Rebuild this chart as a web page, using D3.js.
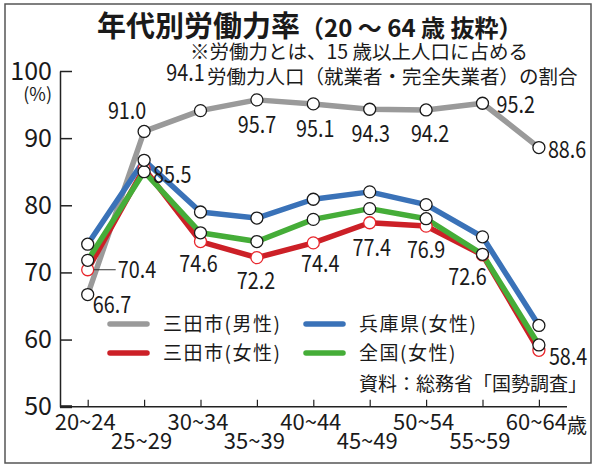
<!DOCTYPE html>
<html>
<head>
<meta charset="utf-8">
<script src="https://cdn.jsdelivr.net/npm/d3@7"></script>
<style>
  body { margin: 0; background: #fff; }
  svg text { font-family: "Noto Sans CJK JP", "Noto Sans", sans-serif; fill: #1a1a1a; }
</style>
</head>
<body>
<svg id="chart" width="597" height="466"></svg>
<script>
// age groups and rates (%)
const ages = ["20~24", "25~29", "30~34", "35~39", "40~44", "45~49", "50~54", "55~59", "60~64"];
const sandaMale = [66.7, 91.0, 94.1, 95.7, 95.1, 94.3, 94.2, 95.2, 88.6];
const sandaFemale = [70.4, 85.5, 74.6, 72.2, 74.4, 77.4, 76.9, 72.6, 58.4];
const hyogoFemale = [74.2, 86.7, 79.0, 78.1, 80.9, 82.0, 80.1, 75.3, 62.1];
const nationFemale = [71.8, 85.0, 75.9, 74.6, 77.9, 79.5, 78.0, 72.7, 59.2];
const yTicks = [50, 60, 70, 80, 90, 100];

// label offsets from the point: [dx, dy, anchor]
const maleLabelPos = [[5, 18, "start"], [-17, -12, "middle"], [-15, -30, "middle"], [0, 33, "middle"],
  [2, 33, "middle"], [1, 33, "middle"], [4, 32, "middle"], [14, 10, "start"], [9, 10, "start"]];
const femaleLabelPos = [[30, 8, "start"], [9, 15, "start"], [-2, 30, "middle"], [-1, 31, "middle"],
  [7, 29, "middle"], [2, 33, "middle"], [0, 32, "middle"], [-15, 30, "middle"], [10, 15, "start"]];

const svg = d3.select("#chart");
const squeeze = 0.86; // the numbers in the original are set in a narrow face

// frame
svg.append("rect")
  .attr("x", 5).attr("y", 4).attr("width", 586).attr("height", 459)
  .attr("fill", "none").attr("stroke", "#555").attr("stroke-width", 1.5);

// titles
const title = svg.append("text").attr("x", 97).attr("y", 37).attr("font-weight", "bold");
title.append("tspan").attr("font-size", 29).text("年代別労働力率");
title.append("tspan").attr("font-size", 24).text("（20 ～ 64 歳  抜粋）");

svg.append("text").attr("x", 190).attr("y", 59).attr("font-size", 19.5)
  .text("※労働力とは、15 歳以上人口に占める");
svg.append("text").attr("x", 207).attr("y", 84).attr("font-size", 19.5)
  .text("労働力人口（就業者・完全失業者）の割合");

// scales
const x = d3.scalePoint().domain(ages).range([87.7, 538.9]);
const y = d3.scaleLinear().domain([50, 100]).range([406.7, 71]);

// y axis
const yAxis = g => g
  .attr("transform", "translate(60,0)")
  .call(d3.axisLeft(y).tickValues(yTicks).tickSize(-12).tickPadding(8).tickSizeOuter(0))
  .call(g => g.select(".domain").attr("stroke", "#222").attr("stroke-width", 1.5))
  .call(g => g.selectAll(".tick line").attr("stroke", "#222").attr("stroke-width", 1.5))
  .call(g => g.selectAll(".tick text").attr("font-size", 25).attr("font-family", "'Noto Sans CJK JP'").attr("fill", "#1a1a1a"));
svg.append("g").call(yAxis);

svg.append("text").attr("x", 52).attr("y", 101).attr("text-anchor", "end").attr("font-size", 18).text("(%)");

// x axis
const xAxis = g => g
  .attr("transform", "translate(0," + y(50) + ")")
  .call(d3.axisBottom(x).tickSize(-7).tickSizeOuter(0))
  .call(g => g.select(".domain").attr("d", "M60,0H567").attr("stroke", "#222").attr("stroke-width", 1.5))
  .call(g => g.selectAll(".tick line").attr("stroke", "#222").attr("stroke-width", 1.2))
  .call(g => g.selectAll(".tick text")
    .attr("font-size", 22).attr("font-family", "'Noto Sans CJK JP'").attr("fill", "#1a1a1a")
    .attr("dx", -3)
    .attr("y", (d, i) => i % 2 === 0 ? 8 : 27));
svg.append("g").call(xAxis);
svg.append("line").attr("x1", 60).attr("x2", 72).attr("y1", y(50)).attr("y2", y(50))
  .attr("stroke", "#222").attr("stroke-width", 3);

svg.append("text").attr("x", 567).attr("y", 433).attr("font-size", 20).text("歳");

// series
const series = [
  { name: "三田市(男性)", values: sandaMale, color: "#9a9a9a", ring: "#1a1a1a" },
  { name: "三田市(女性)", values: sandaFemale, color: "#cc2027", ring: "#e8262c" },
  { name: "全国(女性)", values: nationFemale, color: "#45ad38", ring: "#1a1a1a" },
  { name: "兵庫県(女性)", values: hyogoFemale, color: "#3a72b8", ring: "#1a1a1a" }
];

const line = d3.line().x((d, i) => x(ages[i])).y(d => y(d));

series.forEach(s => {
  svg.append("path")
    .datum(s.values)
    .attr("d", line)
    .attr("fill", "none")
    .attr("stroke", s.color)
    .attr("stroke-width", 5.5)
    .attr("stroke-linejoin", "round");
});

series.forEach(s => {
  svg.append("g").selectAll("circle")
    .data(s.values)
    .join("circle")
    .attr("cx", (d, i) => x(ages[i]))
    .attr("cy", d => y(d))
    .attr("r", 6)
    .attr("fill", "#fff")
    .attr("stroke", s.ring)
    .attr("stroke-width", 1.3);
});

// value labels
const labelSize = 23;
function valueLabels(values, pos) {
  svg.append("g").selectAll("text")
    .data(values)
    .join("text")
    .attr("transform", (d, i) =>
      "translate(" + (x(ages[i]) + pos[i][0]) + "," + (y(d) + pos[i][1]) + ") scale(" + squeeze + ",1)")
    .attr("text-anchor", (d, i) => pos[i][2])
    .attr("font-size", labelSize)
    .text(d => d.toFixed(1));
}
valueLabels(sandaMale, maleLabelPos);
valueLabels(sandaFemale, femaleLabelPos);

// leader for 70.4
svg.append("line")
  .attr("x1", x(ages[0]) + 6).attr("x2", x(ages[0]) + 28)
  .attr("y1", y(sandaFemale[0])).attr("y2", y(sandaFemale[0]))
  .attr("stroke", "#333").attr("stroke-width", 1);

// legend
const legendItems = [
  { s: series[0], col: 0, row: 0 },
  { s: series[3], col: 1, row: 0 },
  { s: series[1], col: 0, row: 1 },
  { s: series[2], col: 1, row: 1 }
];
const legend = svg.append("g");
legendItems.forEach(it => {
  const lx = 110 + it.col * 196, ly = 324 + it.row * 29;
  legend.append("line")
    .attr("x1", lx).attr("x2", lx + 37).attr("y1", ly).attr("y2", ly)
    .attr("stroke", it.s.color).attr("stroke-width", 5.5).attr("stroke-linecap", "round");
  legend.append("text")
    .attr("x", lx + 53).attr("y", ly).attr("dy", "0.36em")
    .attr("font-size", 19).attr("letter-spacing", 1.5).text(it.s.name);
});

svg.append("text").attr("x", 587).attr("y", 391).attr("text-anchor", "end").attr("font-size", 19)
  .text("資料：総務省「国勢調査」");
</script>
</body>
</html>
